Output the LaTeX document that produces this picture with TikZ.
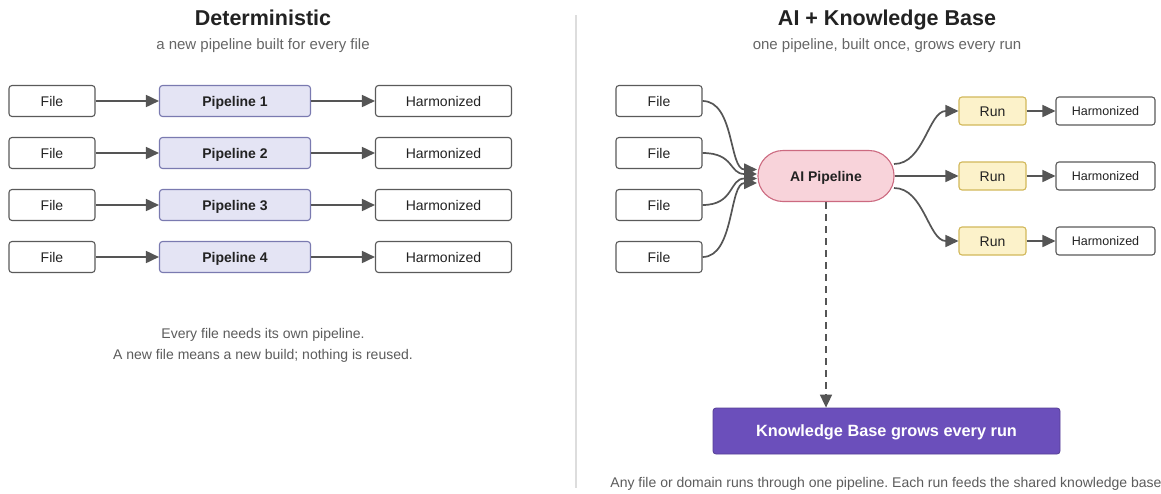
\documentclass[tikz,border=0pt]{standalone}
\usepackage{fontspec}
\setmainfont{Liberation Sans}
\usetikzlibrary{arrows.meta,calc}
\frenchspacing
\definecolor{ink}{HTML}{222222}
\definecolor{edge}{HTML}{555555}
\definecolor{boxline}{HTML}{5A5A5A}
\definecolor{pipefill}{HTML}{E4E4F4}
\definecolor{pipeline}{HTML}{7A7AB0}
\definecolor{aifill}{HTML}{F8D3DA}
\definecolor{ailine}{HTML}{CC6A80}
\definecolor{runfill}{HTML}{FCF2CA}
\definecolor{runline}{HTML}{D2B85A}
\definecolor{kbfill}{HTML}{6B4FBB}
\definecolor{subtxt}{HTML}{666666}
\definecolor{divider}{HTML}{DDDDDD}
\tikzset{
  plainbox/.style={draw=boxline, fill=white, rounded corners=3pt, line width=1.1pt,
    text=ink, font=\fontsize{14}{16}\selectfont, inner sep=0pt, text height=10pt, text depth=0pt},
  filebox/.style={plainbox, minimum width=86pt, minimum height=31pt},
  harmbox/.style={plainbox, minimum width=136pt, minimum height=31pt},
  pipebox/.style={plainbox, draw=pipeline, fill=pipefill, minimum width=151pt, minimum height=31pt,
    font=\bfseries\fontsize{14}{16}\selectfont},
  aibox/.style={draw=ailine, fill=aifill, rounded corners=25pt, line width=1.1pt,
    minimum width=136pt, minimum height=51pt, inner sep=0pt, text=ink, text height=10pt, text depth=0pt,
    font=\bfseries\fontsize{14}{16}\selectfont},
  runbox/.style={plainbox, draw=runline, fill=runfill, minimum width=67pt, minimum height=28pt},
  harmsmall/.style={plainbox, minimum width=99pt, minimum height=28pt,
    font=\fontsize{12.5}{15}\selectfont, text height=9pt},
  kbbox/.style={draw=kbfill!80!black, fill=kbfill, rounded corners=3pt, line width=0.8pt,
    minimum width=347pt, minimum height=46pt, inner sep=0pt, text=white, text height=11.5pt, text depth=0pt,
    font=\bfseries\fontsize{16.3}{18}\selectfont},
  conn/.style={draw=edge, line width=1.7pt, -{Triangle[length=13pt,width=12pt]}},
  title/.style={text=ink, font=\bfseries\fontsize{21.5}{24}\selectfont, text height=15.5pt, text depth=0pt},
  subtitle/.style={text=subtxt, font=\fontsize{15}{17}\selectfont, text height=11pt, text depth=0pt},
  note/.style={text=subtxt!90!black, font=\fontsize{14}{16}\selectfont, align=center},
}
\begin{document}
\begin{tikzpicture}[x=1pt,y=-1pt]
\useasboundingbox (0,0) rectangle (1161,493);
\fill[white] (0,0) rectangle (1161,493);

% divider
\draw[divider, line width=1.2pt] (576,15) -- (576,488);

% ---------- left ----------
\node[title] (lt) at (263,18) {Deterministic};
\node[subtitle] (ls) at (263,44) {a new pipeline built for every file};

\foreach \i/\y in {1/101,2/153,3/205,4/257}{
  \node[filebox] (lf\i) at (52,\y) {File};
  \node[pipebox] (lp\i) at (235,\y) {Pipeline \i};
  \node[harmbox] (lh\i) at (443.5,\y) {Harmonized};
  \draw[conn] (lf\i) -- (lp\i);
  \draw[conn] (lp\i) -- (lh\i);
}

\node[note] (ln) at (263,345.5) {Every file needs its own pipeline.\\[4.5pt]A new file means a new build; nothing is reused.};

% ---------- right ----------
\node[title] (rt) at (887,18) {AI + Knowledge Base};
\node[subtitle] (rs) at (887,44) {one pipeline, built once, grows every run};

\node[aibox] (ai) at (826,176) {AI Pipeline};

\foreach \i/\y in {1/101,2/153,3/205,4/257}{
  \node[filebox] (rf\i) at (659,\y) {File};
}
\coordinate (in1) at (757,169.5);
\coordinate (in2) at (757,174);
\coordinate (in3) at (757,178.5);
\coordinate (in4) at (757,183);
\foreach \i in {1,2,3,4}{
  \draw[conn] (rf\i.east) .. controls +(32,0) and +(-28,0) .. (in\i);
}

\foreach \i/\y in {1/111,2/176,3/241}{
  \node[runbox] (run\i) at (992.5,\y) {Run};
  \node[harmsmall] (rh\i) at (1105.5,\y) {Harmonized};
  \draw[conn] (run\i) -- (rh\i);
}
\coordinate (o1) at (894,164);
\coordinate (o3) at (894,188);
\draw[conn] (o1) .. controls +(30,0) and +(-30,0) .. (run1.west);
\draw[conn] (ai.east) -- (run2.west);
\draw[conn] (o3) .. controls +(30,0) and +(-30,0) .. (run3.west);

\node[kbbox] (kb) at (886.5,431) {Knowledge Base grows every run};
\draw[conn, dash pattern=on 7pt off 5pt] (ai.south) -- (ai.south |- kb.north);

\node[note] (rn) at (886,484) {Any file or domain runs through one pipeline. Each run feeds the shared knowledge base};
\end{tikzpicture}
\end{document}
